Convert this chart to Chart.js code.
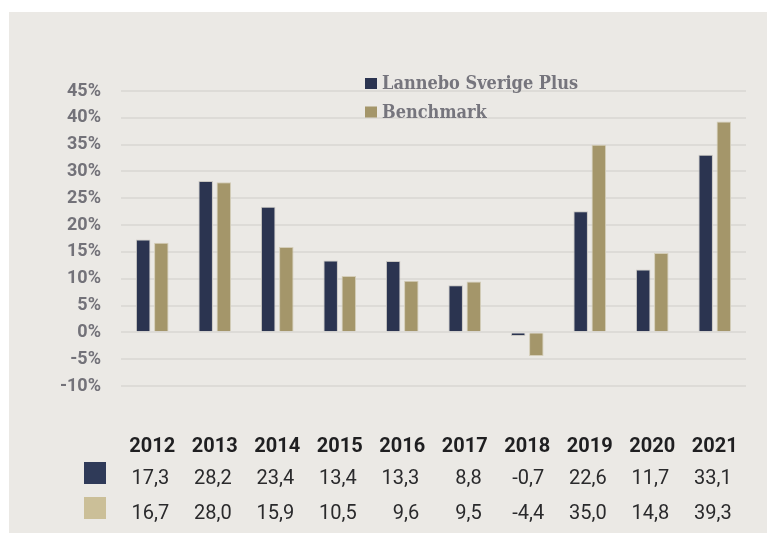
<!DOCTYPE html>
<html>
<head>
<meta charset="utf-8">
<script src="https://cdn.jsdelivr.net/npm/chart.js@4.4.1/dist/chart.umd.min.js"></script>
<style>
  body { margin: 0; background: #ffffff; }
  #ram { position: absolute; left: 9px; top: 12px; width: 758px; height: 521px; background: #ebe9e5; }
  #diagram { position: absolute; left: 0; top: 0; }
</style>
</head>
<body>
<div id="ram"></div>
<canvas id="diagram" width="767" height="533"></canvas>
<script>
// Årtal och avkastning (%)
const ar = ["2012", "2013", "2014", "2015", "2016", "2017", "2018", "2019", "2020", "2021"];
const fonden = [17.3, 28.2, 23.4, 13.4, 13.3, 8.8, -0.7, 22.6, 11.7, 33.1];
const jamforelse = [16.7, 28.0, 15.9, 10.5, 9.6, 9.5, -4.4, 35.0, 14.8, 39.3];
const serienamn = ["Lannebo Sverige Plus", "Benchmark"];

const smalFont = "Roboto, 'DejaVu Sans Condensed', sans-serif";
const slabFont = "'DejaVu Serif Condensed', 'DejaVu Serif', serif";

const format = (v) => v.toFixed(1).replace(".", ",");

// Förklaring uppe i diagrammet och tabellen under
const extraRitning = {
  id: "extraRitning",
  afterDraw(chart) {
    const ctx = chart.ctx;
    const x = chart.scales.x;
    const ds = chart.data.datasets;
    ctx.save();

    // förklaring
    ctx.font = "bold 18px " + slabFont;
    ctx.textBaseline = "alphabetic";
    ctx.textAlign = "left";
    ds.forEach((d, i) => {
      const y = 89 + i * 28.5;
      ctx.fillStyle = d.backgroundColor;
      ctx.fillRect(365, y - 11, 12, 11);
      ctx.fillStyle = "#76757d";
      ctx.fillText(d.label, 382, y);
    });

    // tabell
    const rader = [fonden, jamforelse];
    const rutfarg = ["#2f3a58", "#cbbf98"];
    const radY = [479, 514];
    ctx.font = "20px " + smalFont;
    ctx.textBaseline = "middle";
    rader.forEach((rad, r) => {
      ctx.fillStyle = rutfarg[r];
      ctx.fillRect(84, radY[r] - 17, 22, 22);
      ctx.fillStyle = "#2a2a2c";
      ctx.textAlign = "right";
      rad.forEach((v, i) => {
        ctx.fillText(format(v), x.getPixelForValue(i) + 17, radY[r]);
      });
    });
    ctx.restore();
  }
};

new Chart(document.getElementById("diagram"), {
  type: "bar",
  data: {
    labels: ar,
    datasets: [
      {
        label: serienamn[0],
        data: fonden,
        backgroundColor: "#2b3450",
        borderColor: "#c9c7c2",
        borderWidth: 1,
      },
      {
        label: serienamn[1],
        data: jamforelse,
        backgroundColor: "#a4966a",
        borderColor: "#d4cdb8",
        borderWidth: 1,
      },
    ],
  },
  options: {
    responsive: false,
    animation: false,
    devicePixelRatio: 1,
    categoryPercentage: 0.58,
    barPercentage: 0.8,
    layout: { padding: { top: 91, right: 21, left: 0, bottom: 0 } },
    plugins: {
      legend: { display: false },
      tooltip: { enabled: false },
    },
    scales: {
      x: {
        grid: { display: false, drawTicks: false },
        border: { display: false },
        ticks: {
          padding: 49,
          maxRotation: 0,
          color: "#1f1f21",
          font: { family: smalFont, size: 20, weight: "bold" },
        },
        afterFit(scale) {
          scale.height = 147;
          scale.paddingLeft = 0;
          scale.paddingRight = 0;
        },
      },
      y: {
        min: -10,
        max: 45,
        ticks: {
          stepSize: 5,
          padding: 20,
          color: "#737279",
          font: { family: smalFont, size: 18, weight: "bold" },
          callback: (v) => v + "%",
        },
        grid: { color: "#dddbd7", lineWidth: 2, drawTicks: false },
        border: { display: false },
        afterFit(scale) { scale.width = 121; },
      },
    },
  },
  plugins: [extraRitning],
});
</script>
</body>
</html>
